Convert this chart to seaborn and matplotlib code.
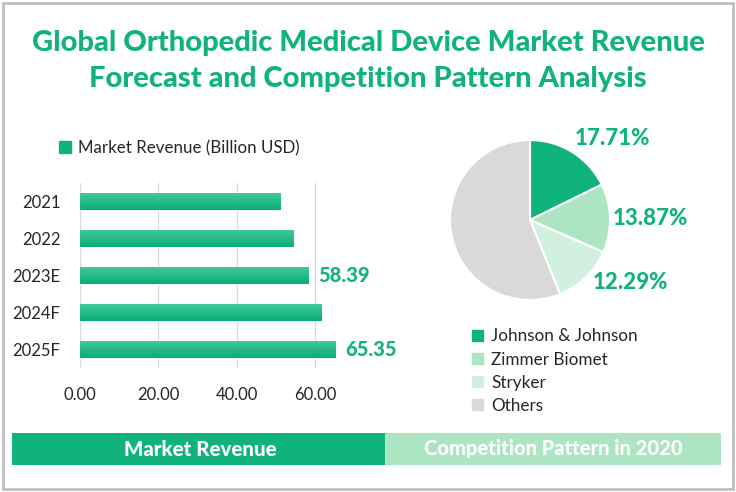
import numpy as np
import matplotlib
matplotlib.use("Agg")
import matplotlib.pyplot as plt
import matplotlib.patches as mpatches
from matplotlib.colors import LinearSegmentedColormap
import seaborn as sns
import pandas as pd

# ---------------- data ----------------
years = ["2021", "2022", "2023E", "2024F", "2025F"]
revenue = [51.3, 54.6, 58.39, 61.6, 65.35]
label_years = ["2023E", "2025F"]

companies = ["Johnson & Johnson", "Zimmer Biomet", "Stryker", "Others"]
shares = [17.71, 13.87, 12.29, 56.13]
share_labels = ["17.71%", "13.87%", "12.29%"]

xticks = [0, 20, 40, 60]

title = "Global Orthopedic Medical Device Market Revenue\nForecast and Competition Pattern Analysis"
legend_label = "Market Revenue (Billion USD)"
banner_left = "Market Revenue"
banner_right = "Competition Pattern in 2020"

# ---------------- style ----------------
sns.set_theme(style="white")
plt.rcParams["font.family"] = ["Lato", "DejaVu Sans"]

GREEN = "#10B27E"
LIGHT = "#ADE5C2"
LIGHTER = "#D2F0DF"
GREY = "#D9D9D9"
TXT = "#262626"
pie_colors = [GREEN, LIGHT, LIGHTER, GREY]

W, H = 736, 492
fig = plt.figure(figsize=(W / 100, H / 100), dpi=100)
fig.patch.set_facecolor("white")

def fx(px):
    return px / W

def fy(py):
    return 1 - py / H

# frame border
fig.add_artist(mpatches.Rectangle((fx(3), fy(489)), fx(730), 486 / H, transform=fig.transFigure,
                                  fill=False, edgecolor="#BFBFBF", linewidth=2.0))

# title
fig.text(0.5, fy(61), title, ha="center", va="center", color=GREEN, fontsize=21,
         fontweight="black", linespacing=1.5)

# ---------------- bar chart ----------------
df = pd.DataFrame({"year": years, "revenue": revenue})
ax = fig.add_axes([fx(80), fy(368), fx(354 - 80), (368 - 183) / H])
sns.barplot(data=df, x="revenue", y="year", orient="h", color=GREEN, width=0.48,
            saturation=1, ax=ax)
ax.set_xlim(0, 70)
ax.set_xticks(xticks)
ax.set_xticklabels([f"{t:.2f}" for t in xticks], fontsize=12, color=TXT)
ax.tick_params(axis="y", labelsize=12, labelcolor=TXT, pad=14, length=0)
ax.tick_params(axis="x", pad=14, length=0)
ax.set_xlabel("")
ax.set_ylabel("")
ax.grid(axis="x", color="#D9D9D9", linewidth=0.9)
ax.set_axisbelow(True)
for s in ax.spines.values():
    s.set_visible(False)

# gradient on bars
cmap = LinearSegmentedColormap.from_list("g", ["#44C99C", "#0AAE78"])
grad = np.linspace(0, 1, 64).reshape(-1, 1)
for p in list(ax.patches):
    x0, y0 = p.get_x(), p.get_y()
    w, h = p.get_width(), p.get_height()
    im = ax.imshow(grad, cmap=cmap, aspect="auto", extent=[x0, x0 + w, y0 + h, y0],
                   origin="upper", zorder=p.get_zorder() + 0.1)
    im.set_clip_path(p)
ax.set_xlim(0, 70)
ax.set_ylim(len(years) - 0.5, -0.5)

# value labels
container = ax.containers[0]
lbls = [f"{v:.2f}" if y in label_years else "" for y, v in zip(years, revenue)]
ax.bar_label(container, labels=lbls, padding=7, color=GREEN, fontsize=14.5,
             fontweight="black", clip_on=False)

# legend
handle = mpatches.Patch(color=GREEN, label=legend_label)
fig.legend(handles=[handle], loc="center left", bbox_to_anchor=(fx(44), fy(148)),
           frameon=False, fontsize=12.2, handlelength=0.7, handleheight=0.7,
           handletextpad=0.4, labelcolor=TXT)

# ---------------- pie chart ----------------
pax = fig.add_axes([fx(450), fy(300), fx(160), 160 / H])
wedges, _ = pax.pie(shares, colors=pie_colors, startangle=90, counterclock=False,
                    wedgeprops=dict(edgecolor="white", linewidth=1.5))
pax.set_aspect("equal")
pax.set_xlim(-1, 1)
pax.set_ylim(-1, 1)
label_pos = [(1.03, 1.02), (1.50, 0.02), (1.26, -0.78)]
for t, (lx, ly) in zip(share_labels, label_pos):
    pax.text(lx, ly, t, ha="center", va="center", color=GREEN, fontsize=16,
             fontweight="black", clip_on=False)

handles = [mpatches.Patch(color=c, label=n) for c, n in zip(pie_colors, companies)]
fig.legend(handles=handles, loc="upper left", bbox_to_anchor=(fx(457), fy(313)),
           frameon=False, fontsize=12.3, handlelength=0.6, handleheight=0.6,
           handletextpad=0.5, labelspacing=0.42, labelcolor=TXT)

# ---------------- banners ----------------
fig.add_artist(mpatches.Rectangle((fx(12), fy(465)), fx(385 - 12), 32 / H,
                                  transform=fig.transFigure, color=GREEN, linewidth=0))
fig.add_artist(mpatches.Rectangle((fx(385), fy(465)), fx(721 - 385), 32 / H,
                                  transform=fig.transFigure, color=LIGHT, linewidth=0))
fig.text(fx(200), fy(449), banner_left, ha="center", va="center", color="white",
         fontsize=14.8, fontweight="black")
fig.text(fx(553), fy(449), banner_right, ha="center", va="center", color="white",
         fontsize=14.5, fontweight="black")

fig.savefig("out.png", dpi=100, facecolor="white")
